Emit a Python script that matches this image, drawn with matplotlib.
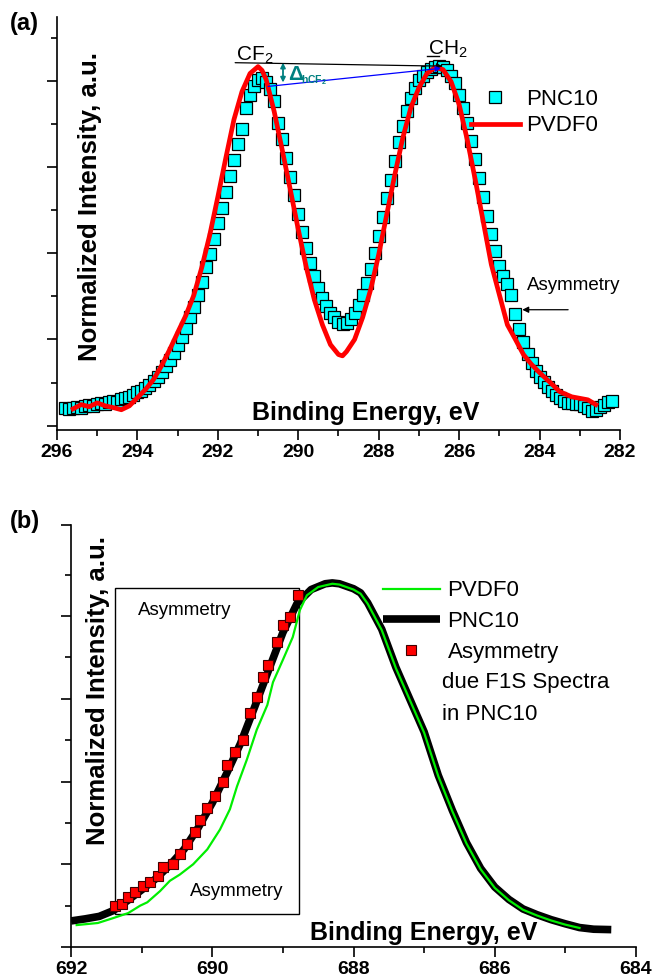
import numpy as np
import matplotlib
matplotlib.use("Agg")
import matplotlib.pyplot as plt
from matplotlib.patches import Rectangle

plt.rcParams['font.family'] = ['Liberation Sans', 'DejaVu Sans']
plt.rcParams['mathtext.fontset'] = 'custom'
plt.rcParams['mathtext.rm'] = 'Liberation Sans'
plt.rcParams['mathtext.bf'] = 'Liberation Sans:bold'

# ---------------- Panel (a): C1s ----------------
a_pnc10_E = np.linspace(295.8, 282.2, 137)
a_pnc10_I = [
    0.042, 0.039, 0.042, 0.044, 0.042, 0.046, 0.049, 0.046, 0.051, 0.053,
    0.051, 0.056, 0.058, 0.056, 0.063, 0.065, 0.067, 0.072, 0.077, 0.081,
    0.088, 0.095, 0.104, 0.114, 0.125, 0.139, 0.153, 0.169, 0.188, 0.206,
    0.227, 0.251, 0.276, 0.304, 0.334, 0.367, 0.399, 0.434, 0.469, 0.506,
    0.543, 0.580, 0.617, 0.654, 0.689, 0.738, 0.766, 0.789, 0.803, 0.807,
    0.798, 0.780, 0.752, 0.703, 0.664, 0.622, 0.578, 0.534, 0.492, 0.450,
    0.413, 0.378, 0.348, 0.320, 0.297, 0.278, 0.262, 0.251, 0.241, 0.237,
    0.239, 0.248, 0.262, 0.281, 0.304, 0.332, 0.364, 0.401, 0.441, 0.483,
    0.527, 0.571, 0.615, 0.657, 0.696, 0.731, 0.761, 0.784, 0.803, 0.812,
    0.821, 0.828, 0.833, 0.835, 0.833, 0.826, 0.812, 0.794, 0.768, 0.738,
    0.701, 0.661, 0.619, 0.575, 0.531, 0.487, 0.445, 0.406, 0.371, 0.348,
    0.329, 0.302, 0.258, 0.225, 0.195, 0.167, 0.146, 0.128, 0.114, 0.102,
    0.090, 0.081, 0.072, 0.065, 0.058, 0.053, 0.053, 0.051, 0.051, 0.046,
    0.042, 0.035, 0.037, 0.044, 0.049, 0.056, 0.058]

a_pvdf0_E = [295.6, 295.4, 295.2, 295.0, 294.8, 294.6, 294.4, 294.2, 294.0, 293.8,
             293.6, 293.4, 293.2, 293.0, 292.8, 292.6, 292.4, 292.2, 292.0, 291.8,
             291.6, 291.4, 291.2, 291.0, 290.9, 290.8, 290.6, 290.4, 290.2, 290.0,
             289.8, 289.6, 289.4, 289.2, 289.0, 288.9, 288.8, 288.6, 288.4, 288.2,
             288.0, 287.8, 287.6, 287.4, 287.2, 287.0, 286.8, 286.6, 286.4, 286.2,
             286.0, 285.8, 285.6, 285.4, 285.2, 285.0, 284.8, 284.6, 284.4, 284.2,
             284.0, 283.7, 283.5, 283.2, 282.8, 282.6]
a_pvdf0_I = [0.039, 0.049, 0.044, 0.053, 0.046, 0.042, 0.037, 0.046, 0.065, 0.084,
             0.107, 0.139, 0.176, 0.216, 0.255, 0.302, 0.367, 0.443, 0.531, 0.622,
             0.710, 0.775, 0.817, 0.833, 0.824, 0.803, 0.729, 0.640, 0.548, 0.455,
             0.367, 0.292, 0.234, 0.188, 0.165, 0.162, 0.172, 0.200, 0.251, 0.316,
             0.397, 0.490, 0.582, 0.668, 0.738, 0.784, 0.817, 0.831, 0.826, 0.798,
             0.745, 0.664, 0.571, 0.473, 0.374, 0.304, 0.234, 0.200, 0.165, 0.142,
             0.123, 0.097, 0.079, 0.067, 0.060, 0.049]

a_xticks = [296, 294, 292, 290, 288, 286, 284, 282]

# ---------------- Panel (b): F1s ----------------
b_pnc10_E = [692.0, 691.8, 691.6, 691.4, 691.2, 691.0, 690.8, 690.6, 690.4, 690.2,
             690.0, 689.8, 689.6, 689.4, 689.2, 689.0, 688.8, 688.6, 688.4, 688.3,
             688.2, 688.0, 687.9, 687.8, 687.6, 687.4, 687.2, 687.0, 686.8, 686.6,
             686.4, 686.2, 686.0, 685.8, 685.6, 685.4, 685.2, 685.0, 684.8, 684.6,
             684.35]
b_pnc10_I = [0.063, 0.068, 0.074, 0.088, 0.112, 0.138, 0.165, 0.198, 0.236, 0.288,
             0.348, 0.418, 0.492, 0.580, 0.670, 0.760, 0.830, 0.864, 0.878, 0.880,
             0.878, 0.866, 0.856, 0.832, 0.768, 0.676, 0.598, 0.520, 0.415, 0.330,
             0.252, 0.190, 0.145, 0.115, 0.092, 0.078, 0.066, 0.056, 0.047, 0.043,
             0.042]

b_pvdf0_E = [691.92, 691.62, 691.4, 691.19, 691.02, 690.92, 690.74, 690.6, 690.46, 690.27,
             690.07, 689.89, 689.75, 689.65, 689.51, 689.37, 689.22, 689.14, 689.0, 688.86,
             688.76, 688.66, 688.5, 688.3, 688.2, 688.0, 687.9, 687.8, 687.6, 687.4,
             687.2, 687.0, 686.8, 686.6, 686.4, 686.2, 686.0, 685.8, 685.6, 685.4,
             685.2, 685.0, 684.8]
b_pvdf0_I = [0.053, 0.058, 0.070, 0.082, 0.100, 0.108, 0.135, 0.160, 0.175, 0.200,
             0.236, 0.284, 0.333, 0.388, 0.453, 0.525, 0.585, 0.640, 0.694, 0.749,
             0.814, 0.850, 0.870, 0.878, 0.876, 0.864, 0.854, 0.830, 0.766, 0.674,
             0.596, 0.518, 0.413, 0.328, 0.250, 0.188, 0.143, 0.113, 0.090, 0.076,
             0.064, 0.054, 0.046]

b_asym_E = [691.38, 691.28, 691.19, 691.09, 690.98, 690.88, 690.77, 690.70, 690.56, 690.46,
            690.36, 690.24, 690.17, 690.07, 689.96, 689.85, 689.79, 689.68, 689.56, 689.46,
            689.37, 689.28, 689.21, 689.08, 689.00, 688.90, 688.78]
b_asym_I = [0.099, 0.104, 0.120, 0.132, 0.147, 0.157, 0.171, 0.193, 0.200, 0.224,
            0.248, 0.277, 0.308, 0.337, 0.364, 0.400, 0.441, 0.472, 0.501, 0.566,
            0.605, 0.653, 0.682, 0.737, 0.778, 0.798, 0.851]

b_xticks = [692, 690, 688, 686, 684]

TEAL = '#008080'

fig = plt.figure(figsize=(6.56, 9.8), dpi=100)
axA = fig.add_axes([57/656, 1-430/980, 563/656, 413/980])
axB = fig.add_axes([71/656, 1-947/980, 565/656, 422/980])

for ax in (axA, axB):
    for s in ('top', 'right'):
        ax.spines[s].set_visible(False)
    for s in ('left', 'bottom'):
        ax.spines[s].set_linewidth(1.2)
    ax.tick_params(axis='both', which='major', direction='out', length=7, width=1.2,
                   labelsize=14, pad=3)
    ax.tick_params(axis='both', which='minor', direction='out', length=4, width=1.2)
    ax.tick_params(axis='y', labelleft=False)

# ---- Panel (a)
axA.plot(a_pnc10_E, a_pnc10_I, ls='none', marker='s', ms=8, mfc='#00FFFF',
         mec='black', mew=0.9, label='PNC10', zorder=2)
axA.plot(a_pvdf0_E, a_pvdf0_I, color='#FF0000', lw=3.4, label='PVDF0',
         solid_joinstyle='round', zorder=3)
axA.set_xlim(296, 282)
axA.set_ylim(-0.01, 0.948)
axA.set_xticks(a_xticks)
axA.set_xticks(np.arange(282, 297, 1), minor=True)
axA.set_yticks([0, 0.2, 0.4, 0.6, 0.8])
axA.set_yticks([0.1, 0.3, 0.5, 0.7, 0.9], minor=True)
for lab in axA.get_xticklabels():
    lab.set_fontweight('bold')

axA.text(0.549, 0.024, 'Binding Energy, eV', transform=axA.transAxes, ha='center',
         va='baseline', fontsize=18, fontweight='bold')
axA.text(0.0586, 0.54, 'Normalized Intensity, a.u.', transform=axA.transAxes,
         rotation=90, ha='center', va='center', fontsize=18.5, fontweight='bold')

axA.legend(loc='upper left', bbox_to_anchor=(0.735, 0.826), frameon=False,
           fontsize=16, handlelength=2.2, handletextpad=0.3, labelspacing=0.25,
           borderpad=0, numpoints=1, borderaxespad=0)

# CF2 / CH2 annotations
axA.text(291.55, 0.847, r'CF$_2$', fontsize=15, ha='left', va='baseline')
axA.text(286.77, 0.862, r'CH$_2$', fontsize=15, ha='left', va='baseline')
axA.plot([286.8, 286.5], [0.858, 0.858], color='black', lw=1)
axA.annotate('', xy=(286.42, 0.834), xytext=(291.57, 0.842),
             arrowprops=dict(arrowstyle='-|>', color='black', lw=0.9,
                             mutation_scale=8, shrinkA=0, shrinkB=0))
axA.annotate('', xy=(286.45, 0.829), xytext=(290.75, 0.787),
             arrowprops=dict(arrowstyle='-|>', color='#0000FF', lw=0.9,
                             mutation_scale=8, shrinkA=0, shrinkB=0))
axA.annotate('', xy=(290.38, 0.842), xytext=(290.38, 0.796),
             arrowprops=dict(arrowstyle='<|-|>', color=TEAL, lw=1.3,
                             mutation_scale=7, shrinkA=0, shrinkB=0))
axA.text(290.25, 0.803, 'Δ', fontsize=15, color=TEAL, ha='left', va='baseline',
         fontweight='bold')
axA.text(289.93, 0.794, r'$\mathbf{hCF_2}$', fontsize=7.5, color=TEAL,
         ha='left', va='baseline')

# Asymmetry (a)
axA.text(283.16, 0.325, 'Asymmetry', fontsize=13.5, ha='center', va='center')
axA.annotate('', xy=(284.43, 0.269), xytext=(283.29, 0.269),
             arrowprops=dict(arrowstyle='-|>', color='black', lw=0.9,
                             mutation_scale=9, shrinkA=0, shrinkB=0))

# ---- Panel (b)
axB.plot(b_pnc10_E, b_pnc10_I, color='black', lw=5.5, solid_joinstyle='round',
         solid_capstyle='butt', label='PNC10', zorder=2)
axB.plot(b_asym_E, b_asym_I, ls='none', marker='s', ms=7.5, mfc='#FF0000',
         mec='#400000', mew=0.8, label='Asymmetry', zorder=3)
axB.plot(b_pvdf0_E, b_pvdf0_I, color='#00EE00', lw=1.6, label='PVDF0', zorder=4)
axB.set_xlim(692, 684)
axB.set_ylim(0, 1.02)
axB.set_xticks(b_xticks)
axB.set_xticks(np.arange(684, 693, 1), minor=True)
axB.set_yticks([0, 0.2, 0.4, 0.6, 0.8, 1.02])
axB.set_yticks([0.1, 0.3, 0.5, 0.7, 0.9], minor=True)
for lab in axB.get_xticklabels():
    lab.set_fontweight('bold')

axB.add_patch(Rectangle((688.77, 0.080), 691.38 - 688.77, 0.867 - 0.080,
                        fill=False, edgecolor='black', lw=1.0, zorder=1))
axB.text(690.39, 0.814, 'Asymmetry', fontsize=13.5, ha='center', va='center')
axB.text(689.65, 0.133, 'Asymmetry', fontsize=13.5, ha='center', va='center')

axB.text(0.625, 0.017, 'Binding Energy, eV', transform=axB.transAxes, ha='center',
         va='baseline', fontsize=18, fontweight='bold')
axB.text(0.048, 0.609, 'Normalized Intensity, a.u.', transform=axB.transAxes,
         rotation=90, ha='center', va='center', fontsize=18.5, fontweight='bold')

h, l = axB.get_legend_handles_labels()
order = [l.index('PVDF0'), l.index('PNC10'), l.index('Asymmetry')]
axB.legend([h[i] for i in order], [l[i] for i in order], loc='upper left',
           bbox_to_anchor=(0.552, 0.869), frameon=False, fontsize=16,
           handlelength=2.55, handletextpad=0.36, labelspacing=0.44,
           borderpad=0, numpoints=1, borderaxespad=0)
axB.text(686.745, 0.665, 'due F1S Spectra\nin PNC10', fontsize=16, ha='left',
         va='top', linespacing=1.7)

fig.text(10/656, 0.988, '(a)', fontsize=17, fontweight='bold', ha='left', va='top')
fig.text(10/656, 0.480, '(b)', fontsize=17, fontweight='bold', ha='left', va='top')

fig.savefig('out.png', dpi=100)
